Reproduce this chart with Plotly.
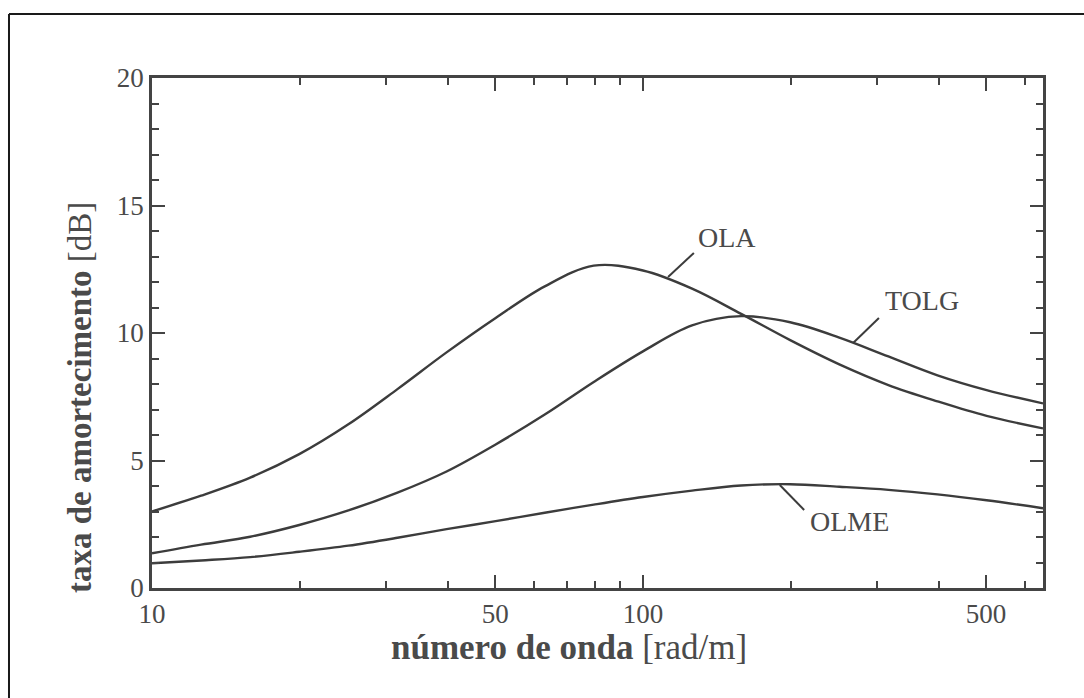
import numpy as np
import plotly.graph_objects as go

# wave number [rad/m]
k = [10, 12.59, 15.85, 19.95, 25.12, 31.62, 39.81, 50.12, 63.1, 79.4, 100,
     125.9, 158.5, 199.5, 251.2, 316.2, 398.1, 501.2, 653]

ola = [3.0, 3.62, 4.33, 5.25, 6.42, 7.8, 9.24, 10.59, 11.83, 12.64, 12.45,
       11.74, 10.75, 9.72, 8.77, 7.96, 7.32, 6.75, 6.26]
tolg = [1.36, 1.70, 2.01, 2.47, 3.04, 3.74, 4.57, 5.63, 6.8, 8.08, 9.28,
        10.3, 10.66, 10.42, 9.82, 9.08, 8.34, 7.76, 7.24]
olme = [0.97, 1.08, 1.21, 1.42, 1.66, 1.97, 2.31, 2.62, 2.95, 3.27, 3.57,
        3.82, 4.02, 4.07, 3.97, 3.85, 3.67, 3.44, 3.13]

series_names = ["OLA", "TOLG", "OLME"]

x_major = [10, 50, 100, 500]
x_major_text = ["10", "50", "100", "500"]
x_minor = [20, 30, 40, 60, 70, 80, 90, 200, 300, 400, 600]
y_major = [0, 5, 10, 15, 20]

# label positions: (text k, text y, leader start k, y, leader end k, y)
label_pos = {
    "OLA": (148, 13.73, 112.5, 12.2, 127, 13.14),
    "TOLG": (370, 11.29, 268, 9.61, 302.5, 10.59),
    "OLME": (264, 2.59, 190, 4.04, 213, 3.06),
}

FONT = "Liberation Serif, Times New Roman, serif"
LINE = "#3c3c3c"
TXT = "#4a4a4a"

fig = go.Figure()
for name, ys in zip(series_names, [ola, tolg, olme]):
    fig.add_trace(go.Scatter(x=k, y=ys, mode="lines", name=name,
                             line=dict(color=LINE, width=2.4, shape="spline", smoothing=1.0),
                             hoverinfo="skip"))

annotations = []
shapes = []
for name, (tx, ty, x0, y0, x1, y1) in label_pos.items():
    annotations.append(dict(x=np.log10(tx), y=ty, xref="x", yref="y", text=name,
                            xanchor="center", yanchor="middle",
                            showarrow=False, font=dict(family=FONT, size=28, color=TXT)))
    shapes.append(dict(type="line", xref="x", yref="y", x0=x0, y0=y0,
                       x1=x1, y1=y1, line=dict(color=LINE, width=2)))

# axis titles as annotations (offset from centre in the original)
annotations.append(dict(x=-0.0808, y=0.3725, xref="paper", yref="paper",
                        xanchor="center", yanchor="middle",
                        text="<b>taxa de amortecimento</b> [dB]", textangle=-90,
                        showarrow=False, font=dict(family=FONT, size=33, color=TXT)))
annotations.append(dict(x=0.468, y=-0.1176, xref="paper", yref="paper",
                        xanchor="center", yanchor="middle",
                        text="<b>número de onda</b> [rad/m]",
                        showarrow=False, font=dict(family=FONT, size=35, color=TXT)))

# outer frame (left and top edges visible)
shapes.append(dict(type="line", xref="paper", yref="paper", x0=-0.1605, y0=-0.25,
                   x1=-0.1605, y1=1.1255, line=dict(color="#1a1a1a", width=2)))
shapes.append(dict(type="line", xref="paper", yref="paper", x0=-0.1605, y0=1.1255,
                   x1=1.06, y1=1.1255, line=dict(color="#1a1a1a", width=2)))

axis_common = dict(showline=True, linecolor="#444444", linewidth=2.5, mirror="ticks",
                   ticks="inside", ticklen=13, tickwidth=2, tickcolor="#444444",
                   showgrid=False, zeroline=False,
                   tickfont=dict(family=FONT, size=27, color=TXT))

fig.update_layout(
    width=1084, height=698,
    margin=dict(l=152, r=41, t=78, b=110),
    paper_bgcolor="white", plot_bgcolor="white",
    showlegend=False,
    xaxis=dict(type="log", range=[1, np.log10(653)], tickmode="array",
               tickvals=x_major, ticktext=x_major_text,
               minor=dict(tickmode="array", tickvals=x_minor, ticks="inside",
                          ticklen=7, tickwidth=2, tickcolor="#444444", showgrid=False),
               **axis_common),
    yaxis=dict(range=[0, 20], tickmode="array", tickvals=y_major,
               minor=dict(dtick=1, ticks="inside", ticklen=7, tickwidth=2,
                          tickcolor="#444444", showgrid=False),
               **axis_common),
    annotations=annotations,
    shapes=shapes,
)

fig.write_html("out.html")
